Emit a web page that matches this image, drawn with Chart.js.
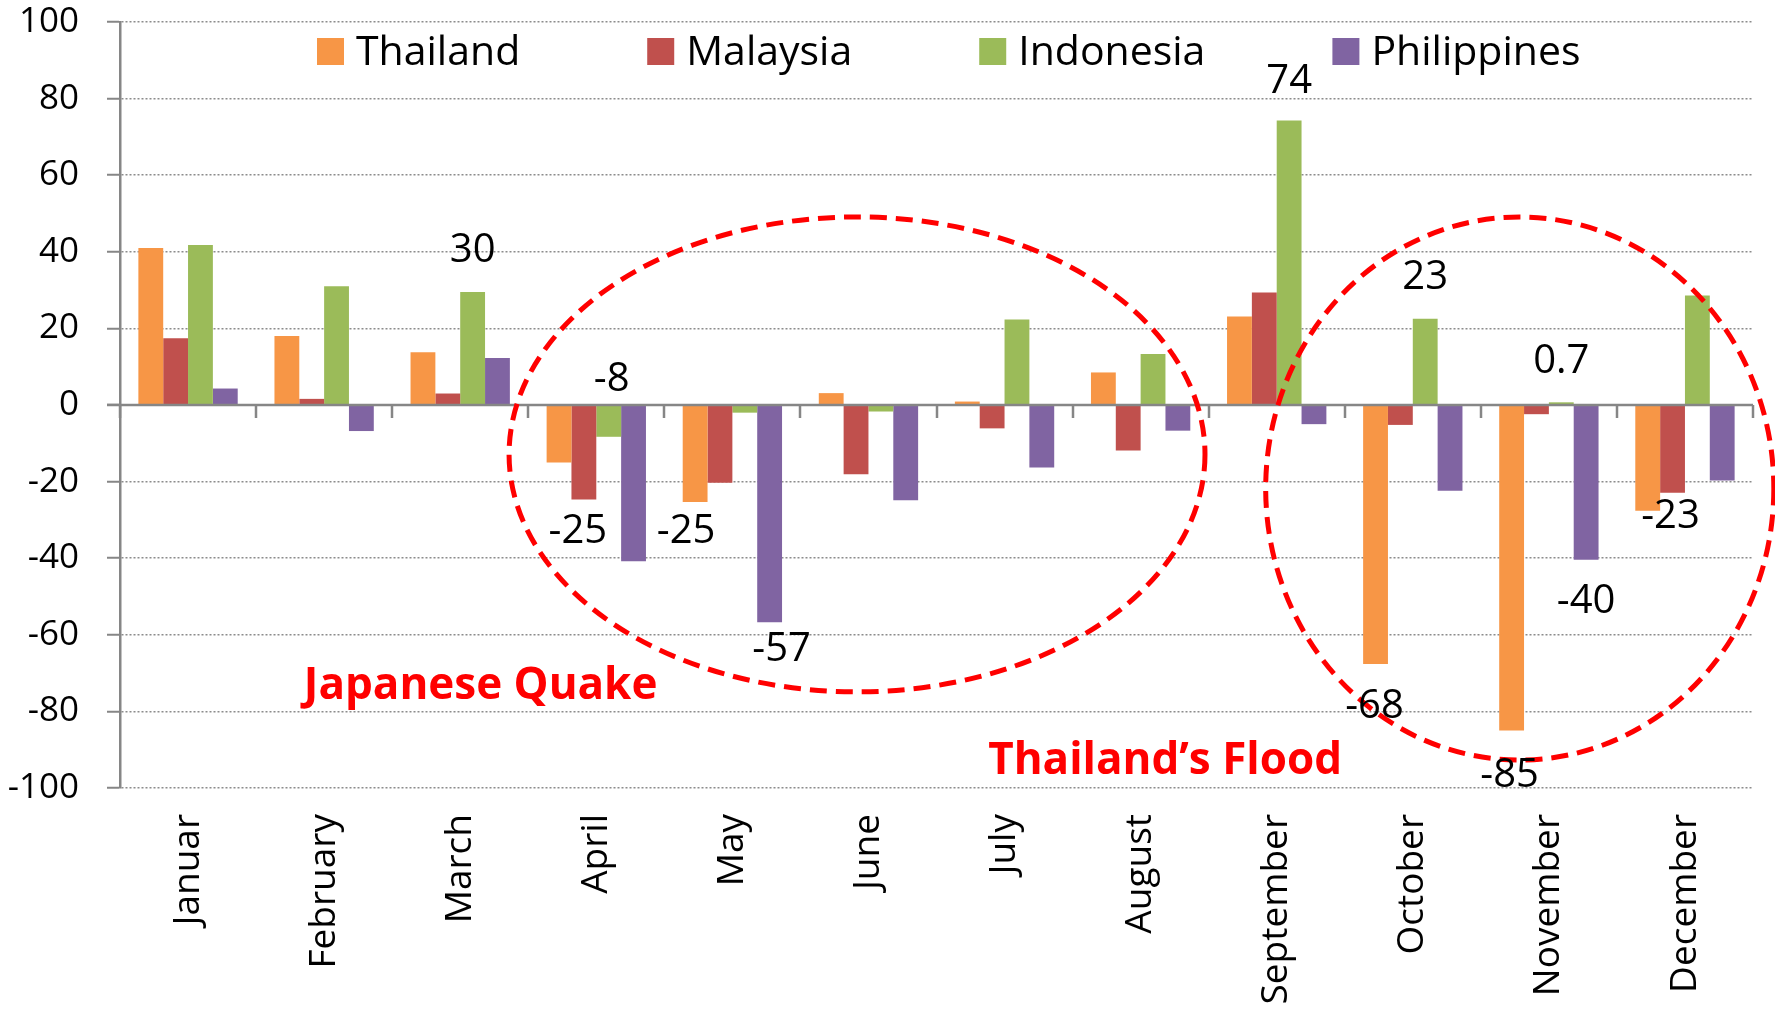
<!DOCTYPE html>
<html>
<head>
<meta charset="utf-8">
<script src="https://cdn.jsdelivr.net/npm/chart.js@4.4.1/dist/chart.umd.min.js"></script>
<style>
  body { margin: 0; background: #fff; }
  #wrap { width: 1775px; height: 1009px; }
</style>
</head>
<body>
<div id="wrap"><canvas id="grafico" width="1775" height="1009"></canvas></div>
<script>
// dados
const meses = ['Januar', 'February', 'March', 'April', 'May', 'June', 'July', 'August', 'September', 'October', 'November', 'December'];
const thailand = [41, 18, 13.8, -15, -25.3, 3.1, 0.9, 8.5, 23.1, -67.6, -85, -27.6];
const malaysia = [17.4, 1.6, 3, -24.7, -20.3, -18.1, -6.1, -11.9, 29.4, -5.2, -2.4, -22.9];
const indonesia = [41.8, 31, 29.5, -8.3, -2, -1.7, 22.3, 13.3, 74.3, 22.5, 0.7, 28.6];
const philippines = [4.3, -6.8, 12.3, -40.8, -56.7, -24.9, -16.3, -6.7, -5, -22.4, -40.4, -19.7];

const paises = ['Thailand', 'Malaysia', 'Indonesia', 'Philippines'];
const cores = ['#F79646', '#C0504D', '#9BBB59', '#8064A2'];

const yMin = -100;
const yMax = 100;
const yStep = 20;

// rotulos de valor: texto, mes e serie
const rotulosTexto = ['30', '-8', '-25', '-25', '-57', '74', '23', '0.7', '-68', '-85', '-40', '-23'];
const rotulosMes = [2, 3, 3, 4, 4, 8, 9, 10, 9, 10, 10, 11];
const rotulosSerie = [2, 2, 1, 0, 3, 2, 2, 2, 0, 0, 3, 1];

const notas = ['Japanese Quake', 'Thailand\u2019s Flood'];

// deslocamento dos rotulos em relacao a ponta da barra (px)
const rotulosDesloc = [[0, -41], [3, -57], [-6, 32], [-9, 30], [12, 27], [0, -39], [0, -41], [0, -41], [-1, 43], [-2, 45], [0, 42], [-2, 24]];

const fonte = '"Open Sans", "DejaVu Sans", sans-serif';

const extras = {
    id: 'extras',
    afterDatasetsDraw(chart) {
        const ctx = chart.ctx;
        const x = chart.scales.x;
        const y = chart.scales.y;
        const area = chart.chartArea;
        const zero = y.getPixelForValue(0);

        ctx.save();
        // eixo das categorias no zero
        ctx.strokeStyle = '#868686';
        ctx.lineWidth = 2.5;
        ctx.beginPath();
        ctx.moveTo(area.left - 13, zero);
        ctx.lineTo(area.right, zero);
        for (let k = 0; k <= meses.length; k++) {
            const px = Math.round(x.getPixelForValue(k - 0.5));
            ctx.moveTo(px, zero);
            ctx.lineTo(px, zero + 13);
        }
        ctx.stroke();

        // elipses tracejadas
        ctx.strokeStyle = '#FF0000';
        ctx.lineWidth = 5;
        ctx.setLineDash([17, 9]);
        const elipses = [[4.916, -12.9, 2.557, 62], [9.786, -21.8, 1.867, 70.9]];
        elipses.forEach(e => {
            const cx = x.getPixelForValue(e[0]);
            const cy = y.getPixelForValue(e[1]);
            const rx = x.getPixelForValue(e[0] + e[2]) - cx;
            const ry = y.getPixelForValue(e[1] - e[3]) - cy;
            ctx.beginPath();
            ctx.ellipse(cx, cy, rx, ry, 0, 0, Math.PI * 2);
            ctx.stroke();
        });
        ctx.setLineDash([]);

        // rotulos de valores
        ctx.fillStyle = '#000';
        ctx.font = '40px ' + fonte;
        ctx.textAlign = 'center';
        ctx.textBaseline = 'middle';
        rotulosTexto.forEach((t, i) => {
            const barra = chart.getDatasetMeta(rotulosSerie[i]).data[rotulosMes[i]];
            ctx.fillText(t, barra.x + rotulosDesloc[i][0], barra.y + rotulosDesloc[i][1]);
        });

        // notas em vermelho
        ctx.fillStyle = '#FF0000';
        ctx.font = 'bold 44px ' + fonte;
        ctx.fillText(notas[0], x.getPixelForValue(2.15), y.getPixelForValue(-73.6));
        ctx.fillText(notas[1], x.getPixelForValue(7.18), y.getPixelForValue(-93.2));

        // legenda dentro da area do grafico
        ctx.font = '41px ' + fonte;
        ctx.textAlign = 'left';
        ctx.textBaseline = 'alphabetic';
        let lx = area.left + 197;
        paises.forEach((p, i) => {
            ctx.fillStyle = cores[i];
            ctx.fillRect(lx, 38, 27, 27);
            ctx.fillStyle = '#000';
            ctx.fillText(p, lx + 39, 65);
            lx += 39 + ctx.measureText(p).width + 127;
        });
        ctx.restore();
    }
};

const series = [thailand, malaysia, indonesia, philippines];

new Chart(document.getElementById('grafico'), {
    type: 'bar',
    data: {
        labels: meses,
        datasets: series.map((s, i) => ({
            label: paises[i],
            data: s,
            backgroundColor: cores[i],
            borderWidth: 0,
            categoryPercentage: 0.73,
            barPercentage: 1.0
        }))
    },
    options: {
        responsive: false,
        animation: false,
        layout: { padding: { top: 22, right: 22, left: 0, bottom: 0 } },
        plugins: {
            legend: { display: false },
            tooltip: { enabled: false }
        },
        scales: {
            x: {
                grid: { display: false },
                border: { display: false },
                ticks: {
                    autoSkip: false,
                    minRotation: 90,
                    maxRotation: 90,
                    padding: 18,
                    color: '#000',
                    font: { family: fonte, size: 37 }
                },
                afterFit(scale) { scale.height = 221; }
            },
            y: {
                min: yMin,
                max: yMax,
                ticks: {
                    stepSize: yStep,
                    padding: 28,
                    color: '#000',
                    font: { family: fonte, size: 35 }
                },
                grid: {
                    color: '#8c8c8c',
                    lineWidth: 1.5,
                    tickLength: 13,
                    tickColor: '#868686',
                    tickWidth: 2
                },
                border: {
                    display: true,
                    color: '#868686',
                    width: 2.5,
                    dash: [2, 2]
                },
                afterFit(scale) {
                    scale.width = 120;
                    scale.paddingTop = 0;
                    scale.paddingBottom = 0;
                }
            }
        }
    },
    plugins: [extras]
});
</script>
</body>
</html>
